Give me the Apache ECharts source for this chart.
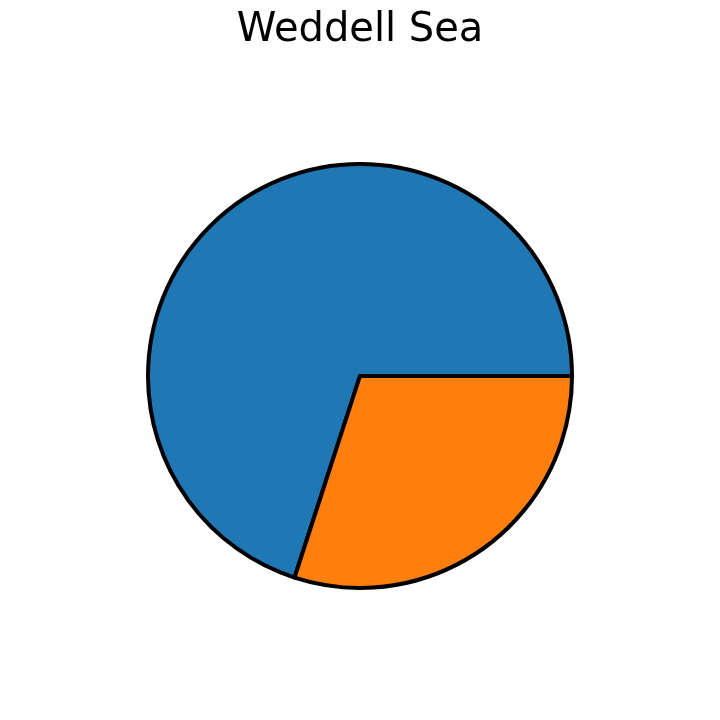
<!DOCTYPE html>
<html>
<head>
<meta charset="utf-8">
<script src="https://cdn.jsdelivr.net/npm/echarts@6/dist/echarts.min.js"></script>
<style>html,body{margin:0;padding:0;background:#fff;}#chart{width:720px;height:720px;}</style>
</head>
<body>
<div id="chart"></div>
<script>
const titleText = 'Weddell Sea';
const categories = ['A', 'B'];
const values = [70, 30];
const colors = ['#1f77b4', '#ff7f0e'];

const chart = echarts.init(document.getElementById('chart'), null, {renderer: 'canvas'});
chart.setOption({
  animation: false,
  backgroundColor: '#ffffff',
  title: {
    text: titleText,
    left: 'center',
    top: 6,
    textStyle: {fontFamily: 'DejaVu Sans', fontSize: 40, fontWeight: 'normal', color: '#000'}
  },
  series: [{
    type: 'pie',
    center: [360, 376],
    radius: 212,
    startAngle: 0,
    clockwise: false,
    label: {show: false},
    labelLine: {show: false},
    emphasis: {disabled: true},
    itemStyle: {borderColor: '#000', borderWidth: 4},
    data: categories.map((c, i) => ({name: c, value: values[i], itemStyle: {color: colors[i]}}))
  }]
});
</script>
</body>
</html>
